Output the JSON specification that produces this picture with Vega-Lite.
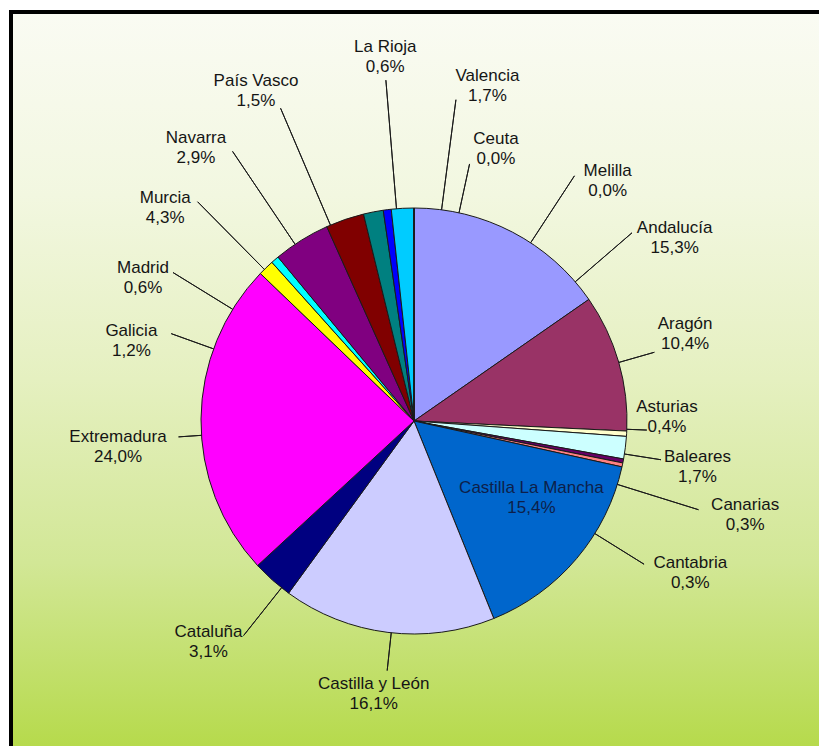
{
  "$schema": "https://vega.github.io/schema/vega-lite/v6.json",
  "width": 808,
  "height": 734,
  "autosize": {"type": "none"},
  "padding": {"left": 11, "top": 12, "right": 0, "bottom": 0},
  "background": "#ffffff",
  "view": {
    "fill": {"gradient": "linear", "x1": 0, "y1": 0, "x2": 0, "y2": 1,
      "stops": [
        {"offset": 0, "color": "#fafbf3"},
        {"offset": 0.25, "color": "#f2f7e0"},
        {"offset": 0.5, "color": "#e5f0c0"},
        {"offset": 0.75, "color": "#d2e796"},
        {"offset": 1, "color": "#b6da4c"}
      ]},
    "stroke": "transparent",
    "strokeWidth": 0
  },
  "config": {
    "text": {"font": "Liberation Sans", "fontSize": 17, "fill": "#151515", "align": "center", "baseline": "middle", "lineHeight": 20, "dy": -9}
  },
  "data": {
    "values": [
      {"region": "Andalucía", "value": 15.3, "order": 1},
      {"region": "Aragón", "value": 10.4, "order": 2},
      {"region": "Asturias", "value": 0.4, "order": 3},
      {"region": "Baleares", "value": 1.7, "order": 4},
      {"region": "Canarias", "value": 0.3, "order": 5},
      {"region": "Cantabria", "value": 0.3, "order": 6},
      {"region": "Castilla La Mancha", "value": 15.4, "order": 7},
      {"region": "Castilla y León", "value": 16.1, "order": 8},
      {"region": "Cataluña", "value": 3.1, "order": 9},
      {"region": "Extremadura", "value": 24.0, "order": 10},
      {"region": "Galicia", "value": 1.2, "order": 11},
      {"region": "Madrid", "value": 0.6, "order": 12},
      {"region": "Murcia", "value": 4.3, "order": 13},
      {"region": "Navarra", "value": 2.9, "order": 14},
      {"region": "País Vasco", "value": 1.5, "order": 15},
      {"region": "La Rioja", "value": 0.6, "order": 16},
      {"region": "Valencia", "value": 1.7, "order": 17},
      {"region": "Ceuta", "value": 0.0, "order": 18},
      {"region": "Melilla", "value": 0.0, "order": 19}
    ]
  },
  "layer": [
    {
      "data": {"values": [{"edge": "top"}]},
      "mark": {"type": "rule", "stroke": "#000000", "strokeWidth": 4, "strokeCap": "square"},
      "encoding": {"x": {"value": 0}, "x2": {"value": "width"}, "y": {"value": 0}}
    },
    {
      "data": {"values": [{"edge": "left"}]},
      "mark": {"type": "rule", "stroke": "#000000", "strokeWidth": 4, "strokeCap": "square"},
      "encoding": {"x": {"value": 0}, "y": {"value": 0}, "y2": {"value": "height"}}
    },
    {
      "mark": {"type": "arc", "radius": 213, "stroke": "#1a1a1a", "strokeWidth": 1},
      "encoding": {
        "x": {"value": 403}, "y": {"value": 409},
        "theta": {"field": "value", "type": "quantitative", "stack": true},
        "order": {"field": "order", "type": "quantitative"},
        "color": {"field": "region", "type": "nominal", "legend": null,
          "scale": {
            "domain": ["Andalucía", "Aragón", "Asturias", "Baleares", "Canarias", "Cantabria", "Castilla La Mancha", "Castilla y León", "Cataluña", "Extremadura", "Galicia", "Madrid", "Murcia", "Navarra", "País Vasco", "La Rioja", "Valencia", "Ceuta", "Melilla"],
            "range": ["#9999FF", "#993366", "#FFFFCC", "#CCFFFF", "#660066", "#FF8080", "#0066CC", "#CCCCFF", "#000080", "#FF00FF", "#FFFF00", "#00FFFF", "#800080", "#800000", "#008080", "#0000FF", "#00CCFF", "#CCFFFF", "#CCFFCC"]
          }}
      }
    },
    {
      "transform": [
        {"stack": "value", "groupby": [], "sort": [{"field": "order", "order": "ascending"}], "as": ["v0", "v1"]},
        {"fold": ["v0", "v1"], "as": ["edgeKey", "edge"]},
        {"aggregate": [{"op": "mean", "field": "edge", "as": "mid"}], "groupby": ["region", "value"]}
      ],
      "encoding": {"x": {"value": 403}, "y": {"value": 409}, "theta": {"field": "mid", "type": "quantitative", "stack": null}},
      "layer": [
        {"transform": [{"filter": {"field": "region", "equal": "Andalucía"}}], "layer": [
          {"mark": {"type": "arc", "radius": 288, "radius2": 213, "thetaOffset": 0.377, "theta2Offset": 0.377, "fillOpacity": 0, "stroke": "#1a1a1a", "strokeWidth": 1}, "encoding": {"theta2": {"field": "mid"}}},
          {"mark": {"type": "text", "radius": 319, "thetaOffset": 0.4747}, "encoding": {"text": {"value": {"expr": "[datum.region, replace(format(datum.value, '.1f'), '.', ',') + '%']"}}}}
        ]},
        {"transform": [{"filter": {"field": "region", "equal": "Aragón"}}], "layer": [
          {"mark": {"type": "arc", "radius": 250, "radius2": 213, "thetaOffset": 0.0017, "theta2Offset": 0.0017, "fillOpacity": 0, "stroke": "#1a1a1a", "strokeWidth": 1}, "encoding": {"theta2": {"field": "mid"}}},
          {"mark": {"type": "text", "radius": 285, "thetaOffset": -0.0332}, "encoding": {"text": {"value": {"expr": "[datum.region, replace(format(datum.value, '.1f'), '.', ',') + '%']"}}}}
        ]},
        {"transform": [{"filter": {"field": "region", "equal": "Asturias"}}], "layer": [
          {"mark": {"type": "arc", "radius": 233, "radius2": 213, "thetaOffset": -0.0209, "theta2Offset": -0.0209, "fillOpacity": 0, "stroke": "#1a1a1a", "strokeWidth": 1}, "encoding": {"theta2": {"field": "mid"}}},
          {"mark": {"type": "text", "radius": 253, "thetaOffset": -0.0785}, "encoding": {"text": {"value": {"expr": "[datum.region, replace(format(datum.value, '.1f'), '.', ',') + '%']"}}}}
        ]},
        {"transform": [{"filter": {"field": "region", "equal": "Baleares"}}], "layer": [
          {"mark": {"type": "arc", "radius": 250, "radius2": 213, "thetaOffset": 0.0297, "theta2Offset": 0.0297, "fillOpacity": 0, "stroke": "#1a1a1a", "strokeWidth": 1}, "encoding": {"theta2": {"field": "mid"}}},
          {"mark": {"type": "text", "radius": 287, "thetaOffset": 0.0314}, "encoding": {"text": {"value": {"expr": "[datum.region, replace(format(datum.value, '.1f'), '.', ',') + '%']"}}}}
        ]},
        {"transform": [{"filter": {"field": "region", "equal": "Canarias"}}], "layer": [
          {"mark": {"type": "arc", "radius": 298, "radius2": 213, "thetaOffset": 0.1134, "theta2Offset": 0.1134, "fillOpacity": 0, "stroke": "#1a1a1a", "strokeWidth": 1}, "encoding": {"theta2": {"field": "mid"}}},
          {"mark": {"type": "text", "radius": 344, "thetaOffset": 0.0855}, "encoding": {"text": {"value": {"expr": "[datum.region, replace(format(datum.value, '.1f'), '.', ',') + '%']"}}}}
        ]},
        {"transform": [{"filter": {"field": "region", "equal": "Cantabria"}}], "layer": [
          {"mark": {"type": "arc", "radius": 271, "radius2": 213, "thetaOffset": 0.3491, "theta2Offset": 0.3491, "fillOpacity": 0, "stroke": "#1a1a1a", "strokeWidth": 1}, "encoding": {"theta2": {"field": "mid"}}},
          {"mark": {"type": "text", "radius": 315, "thetaOffset": 0.2932}, "encoding": {"text": {"value": {"expr": "[datum.region, replace(format(datum.value, '.1f'), '.', ',') + '%']"}}}}
        ]},
        {"transform": [{"filter": {"field": "region", "equal": "Castilla La Mancha"}}], "layer": [
          {"mark": {"type": "text", "radius": 140, "thetaOffset": -0.1257, "fill": "#0d1f4a"}, "encoding": {"text": {"value": {"expr": "[datum.region, replace(format(datum.value, '.1f'), '.', ',') + '%']"}}}}
        ]},
        {"transform": [{"filter": {"field": "region", "equal": "Castilla y León"}}], "layer": [
          {"mark": {"type": "arc", "radius": 251, "radius2": 213, "thetaOffset": -0.0157, "theta2Offset": -0.0157, "fillOpacity": 0, "stroke": "#1a1a1a", "strokeWidth": 1}, "encoding": {"theta2": {"field": "mid"}}},
          {"mark": {"type": "text", "radius": 275, "thetaOffset": 0.0244}, "encoding": {"text": {"value": {"expr": "[datum.region, replace(format(datum.value, '.1f'), '.', ',') + '%']"}}}}
        ]},
        {"transform": [{"filter": {"field": "region", "equal": "Cataluña"}}], "layer": [
          {"mark": {"type": "arc", "radius": 274, "radius2": 213, "thetaOffset": -0.0559, "theta2Offset": -0.0559, "fillOpacity": 0, "stroke": "#1a1a1a", "strokeWidth": 1}, "encoding": {"theta2": {"field": "mid"}}},
          {"mark": {"type": "text", "radius": 301, "thetaOffset": 0.0244}, "encoding": {"text": {"value": {"expr": "[datum.region, replace(format(datum.value, '.1f'), '.', ',') + '%']"}}}}
        ]},
        {"transform": [{"filter": {"field": "region", "equal": "Extremadura"}}], "layer": [
          {"mark": {"type": "arc", "radius": 236, "radius2": 213, "thetaOffset": -0.0768, "theta2Offset": -0.0768, "fillOpacity": 0, "stroke": "#1a1a1a", "strokeWidth": 1}, "encoding": {"theta2": {"field": "mid"}}},
          {"mark": {"type": "text", "radius": 297, "thetaOffset": -0.0925}, "encoding": {"text": {"value": {"expr": "[datum.region, replace(format(datum.value, '.1f'), '.', ',') + '%']"}}}}
        ]},
        {"transform": [{"filter": {"field": "region", "equal": "Galicia"}}], "layer": [
          {"mark": {"type": "arc", "radius": 258, "radius2": 213, "thetaOffset": -0.4573, "theta2Offset": -0.4573, "fillOpacity": 0, "stroke": "#1a1a1a", "strokeWidth": 1}, "encoding": {"theta2": {"field": "mid"}}},
          {"mark": {"type": "text", "radius": 294, "thetaOffset": -0.5236}, "encoding": {"text": {"value": {"expr": "[datum.region, replace(format(datum.value, '.1f'), '.', ',') + '%']"}}}}
        ]},
        {"transform": [{"filter": {"field": "region", "equal": "Madrid"}}], "layer": [
          {"mark": {"type": "arc", "radius": 283, "radius2": 213, "thetaOffset": -0.3072, "theta2Offset": -0.3072, "fillOpacity": 0, "stroke": "#1a1a1a", "strokeWidth": 1}, "encoding": {"theta2": {"field": "mid"}}},
          {"mark": {"type": "text", "radius": 307, "thetaOffset": -0.37}, "encoding": {"text": {"value": {"expr": "[datum.region, replace(format(datum.value, '.1f'), '.', ',') + '%']"}}}}
        ]},
        {"transform": [{"filter": {"field": "region", "equal": "Murcia"}}], "layer": [
          {"mark": {"type": "arc", "radius": 308, "radius2": 213, "thetaOffset": -0.2217, "theta2Offset": -0.2217, "fillOpacity": 0, "stroke": "#1a1a1a", "strokeWidth": 1}, "encoding": {"theta2": {"field": "mid"}}},
          {"mark": {"type": "text", "radius": 328, "thetaOffset": -0.3037}, "encoding": {"text": {"value": {"expr": "[datum.region, replace(format(datum.value, '.1f'), '.', ',') + '%']"}}}}
        ]},
        {"transform": [{"filter": {"field": "region", "equal": "Navarra"}}], "layer": [
          {"mark": {"type": "arc", "radius": 325, "radius2": 213, "thetaOffset": -0.2618, "theta2Offset": -0.2618, "fillOpacity": 0, "stroke": "#1a1a1a", "strokeWidth": 1}, "encoding": {"theta2": {"field": "mid"}}},
          {"mark": {"type": "text", "radius": 350, "thetaOffset": -0.3421}, "encoding": {"text": {"value": {"expr": "[datum.region, replace(format(datum.value, '.1f'), '.', ',') + '%']"}}}}
        ]},
        {"transform": [{"filter": {"field": "region", "equal": "País Vasco"}}], "layer": [
          {"mark": {"type": "arc", "radius": 340, "radius2": 213, "thetaOffset": -0.2112, "theta2Offset": -0.2112, "fillOpacity": 0, "stroke": "#1a1a1a", "strokeWidth": 1}, "encoding": {"theta2": {"field": "mid"}}},
          {"mark": {"type": "text", "radius": 367, "thetaOffset": -0.2531}, "encoding": {"text": {"value": {"expr": "[datum.region, replace(format(datum.value, '.1f'), '.', ',') + '%']"}}}}
        ]},
        {"transform": [{"filter": {"field": "region", "equal": "La Rioja"}}], "layer": [
          {"mark": {"type": "arc", "radius": 342, "radius2": 213, "thetaOffset": 0.0436, "theta2Offset": 0.0436, "fillOpacity": 0, "stroke": "#1a1a1a", "strokeWidth": 1}, "encoding": {"theta2": {"field": "mid"}}},
          {"mark": {"type": "text", "radius": 366, "thetaOffset": 0.0471}, "encoding": {"text": {"value": {"expr": "[datum.region, replace(format(datum.value, '.1f'), '.', ',') + '%']"}}}}
        ]},
        {"transform": [{"filter": {"field": "region", "equal": "Valencia"}}], "layer": [
          {"mark": {"type": "arc", "radius": 324, "radius2": 213, "thetaOffset": 0.1833, "theta2Offset": 0.1833, "fillOpacity": 0, "stroke": "#1a1a1a", "strokeWidth": 1}, "encoding": {"theta2": {"field": "mid"}}},
          {"mark": {"type": "text", "radius": 344, "thetaOffset": 0.2688}, "encoding": {"text": {"value": {"expr": "[datum.region, replace(format(datum.value, '.1f'), '.', ',') + '%']"}}}}
        ]},
        {"transform": [{"filter": {"field": "region", "equal": "Ceuta"}}], "layer": [
          {"mark": {"type": "arc", "radius": 263, "radius2": 213, "thetaOffset": 0.2129, "theta2Offset": 0.2129, "fillOpacity": 0, "stroke": "#1a1a1a", "strokeWidth": 1}, "encoding": {"theta2": {"field": "mid"}}},
          {"mark": {"type": "text", "radius": 285, "thetaOffset": 0.2915}, "encoding": {"text": {"value": {"expr": "[datum.region, replace(format(datum.value, '.1f'), '.', ',') + '%']"}}}}
        ]},
        {"transform": [{"filter": {"field": "region", "equal": "Melilla"}}], "layer": [
          {"mark": {"type": "arc", "radius": 293, "radius2": 213, "thetaOffset": 0.5795, "theta2Offset": 0.5795, "fillOpacity": 0, "stroke": "#1a1a1a", "strokeWidth": 1}, "encoding": {"theta2": {"field": "mid"}}},
          {"mark": {"type": "text", "radius": 309, "thetaOffset": 0.6772}, "encoding": {"text": {"value": {"expr": "[datum.region, replace(format(datum.value, '.1f'), '.', ',') + '%']"}}}}
        ]}
      ]
    }
  ]
}
